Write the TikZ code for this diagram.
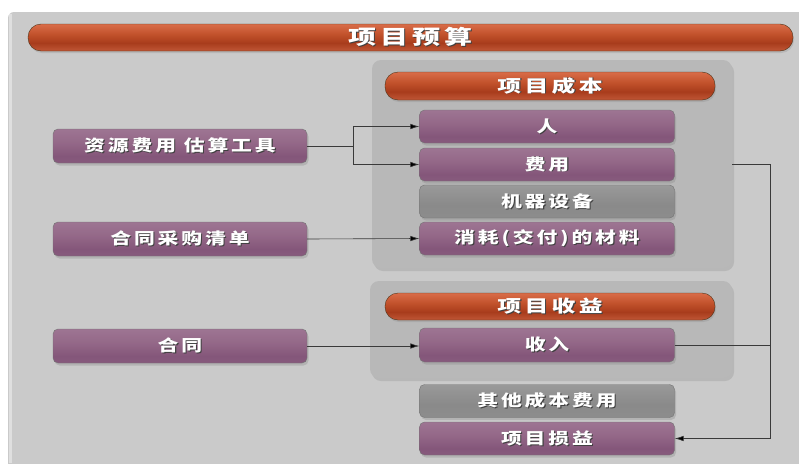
\documentclass[tikz,border=0pt]{standalone}
\usepackage{fontspec}
\newfontfamily\cjk{Noto Sans CJK SC}
\usetikzlibrary{arrows.meta,shadows,calc}
\definecolor{bgc}{HTML}{CACACA}
\definecolor{panc}{HTML}{B8B8B8}
\definecolor{linec}{HTML}{3A3A3A}
\definecolor{pu0}{HTML}{C4A6BA}
\definecolor{pu1}{HTML}{8C6282}
\definecolor{pu2}{HTML}{84567A}
\definecolor{pu3}{HTML}{946888}
\definecolor{pu4}{HTML}{A27C98}
\definecolor{pu5}{HTML}{9A7890}
\definecolor{or0}{HTML}{E8A080}
\definecolor{or1}{HTML}{D06848}
\definecolor{or2}{HTML}{A83C1C}
\definecolor{or3}{HTML}{C0502A}
\definecolor{or4}{HTML}{E07450}
\definecolor{or5}{HTML}{D8673F}
\definecolor{gr0}{HTML}{C2C2C2}
\definecolor{gr1}{HTML}{8E8E8E}
\definecolor{gr2}{HTML}{8A8A8A}
\definecolor{gr3}{HTML}{A6A6A6}
\pgfdeclareverticalshading{purpsh}{100bp}{color(0bp)=(pu0); color(10bp)=(pu1); color(35bp)=(pu2); color(55bp)=(pu3); color(85bp)=(pu4); color(100bp)=(pu5)}
\pgfdeclareverticalshading{orsh}{100bp}{color(0bp)=(or0); color(15bp)=(or1); color(40bp)=(or2); color(55bp)=(or3); color(80bp)=(or4); color(100bp)=(or5)}
\pgfdeclareverticalshading{grsh}{100bp}{color(0bp)=(gr0); color(10bp)=(gr1); color(45bp)=(gr2); color(100bp)=(gr3)}
\newcommand{\shtext}[1]{\makebox[0pt][l]{\hspace{0.8pt}\raisebox{-0.9pt}{\textcolor{black!75}{#1}}}\textcolor{white}{#1}}
\newcommand{\tx}[3][1.3]{\scalebox{#1}[1]{\fontsize{#2}{#2}\selectfont\cjk\bfseries\addfontfeature{LetterSpace=14}\shtext{#3}}}
\tikzset{
  box/.style={rounded corners=5pt, draw=black!55, line width=0.4pt, minimum width=255pt, minimum height=33pt, inner sep=0pt,
    drop shadow={opacity=0.3, shadow xshift=1.5pt, shadow yshift=-2.5pt}},
  pbox/.style={box, shading=purpsh},
  gbox/.style={box, shading=grsh},
  obar/.style={rounded corners=13pt, draw=black!60!brown, line width=0.4pt, shading=orsh, inner sep=0pt,
    drop shadow={opacity=0.25, shadow xshift=1pt, shadow yshift=-2pt}},
  panel/.style={rounded corners=9pt, fill=panc, inner sep=0pt,
    drop shadow={opacity=0.25, shadow xshift=2pt, shadow yshift=-3pt}},
  conn/.style={draw=linec, line width=0.6pt},
  arr/.style={conn, -{Latex[length=9pt,width=5.5pt,fill=black]}}
}
\begin{document}
\begin{tikzpicture}[x=1pt,y=-1pt]
\useasboundingbox (0,0) rectangle (799,463);
\fill[white] (0,0) rectangle (799,463);
\fill[bgc, rounded corners=6pt] (8,12) rectangle (810,475);
\fill[black!4, opacity=0.5] (9,14) rectangle (12,463);
% title
\node[obar, minimum width=765pt, minimum height=27pt] (title) at (410.5,37.5) {\tx[1.4]{20}{项目预算}};
% panels
\node[panel, minimum width=360pt, minimum height=208pt] (costp) at (552,164) {};
\node[panel, minimum width=362pt, minimum height=97pt] (revp) at (551,329.5) {};
\node[obar, minimum width=330pt, minimum height=28pt] (costbar) at (550,86) {\tx[1.4]{17}{项目成本}};
\node[obar, minimum width=330pt, minimum height=27pt] (revbar) at (550,306.5) {\tx[1.4]{17}{项目收益}};
% right boxes
\node[pbox] (ren) at (547,126.5) {\tx{16}{人}};
\node[pbox] (fee) at (547,164.5) {\tx{16}{费用}};
\node[gbox] (mach) at (547,201.5) {\tx{16}{机器设备}};
\node[pbox] (mat) at (547,238.5) {\tx{16}{消耗(交付)的材料}};
\node[pbox, minimum height=34pt] (inc) at (547,345) {\tx{16}{收入}};
\node[gbox] (oth) at (547,401) {\tx{16}{其他成本费用}};
\node[pbox] (pl) at (547,438.5) {\tx{16}{项目损益}};
% left boxes
\node[pbox, minimum width=254pt, minimum height=34pt] (res) at (180,146) {\tx{16}{资源费用\ 估算工具}};
\node[pbox, minimum width=254pt, minimum height=34pt] (proc) at (180,239) {\tx{16}{合同采购清单}};
\node[pbox, minimum width=254pt, minimum height=34pt] (cont) at (180,346) {\tx{16}{合同}};
% connectors
\coordinate (split) at (353,146);
\coordinate (rx) at (770,164);
\draw[conn] (res.east) -- (split);
\draw[arr] (split) |- (ren.west);
\draw[arr] (split) |- (fee.west);
\draw[arr] (proc.east) -- (mat.west);
\draw[arr] (cont.east) -- (cont.east -| inc.west);
\draw[arr] (costp.east) -- (rx) |- (pl.east);
\draw[conn] (inc.east) -- (inc.east -| rx);
\end{tikzpicture}
\end{document}
